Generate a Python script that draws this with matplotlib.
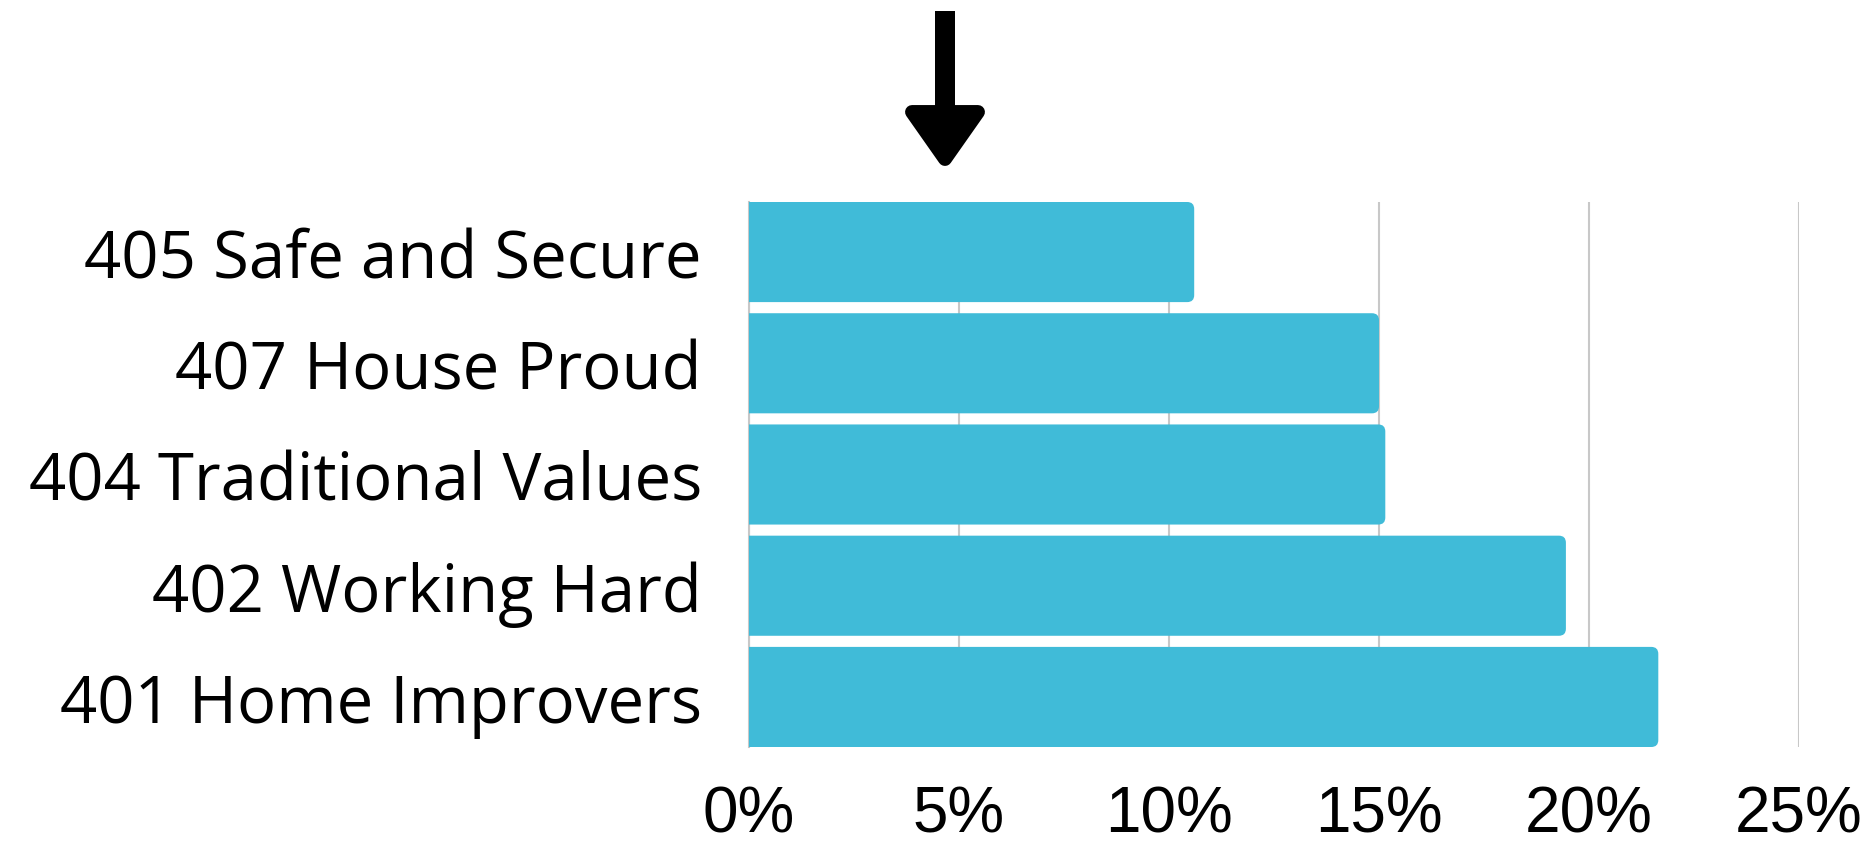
"""Horizontal bar chart of segment shares with a pointer arrow."""

import matplotlib
matplotlib.use("Agg")
import matplotlib.pyplot as plt
from matplotlib.patches import FancyBboxPatch, Polygon

segments = [
    "405 Safe and Secure",
    "407 House Proud",
    "404 Traditional Values",
    "402 Working Hard",
    "401 Home Improvers",
]
shares = [10.6, 15.0, 15.15, 19.45, 21.65]
x_ticks = [0, 5, 10, 15, 20, 25]
x_tick_labels = [f"{t}%" for t in x_ticks]

BAR_COLOR = "#40bbd8"
GRID_COLOR = "#c8c8c8"
W, H = 1871, 845

plt.rcParams["font.family"] = ["Open Sans", "DejaVu Sans"]

fig = plt.figure(figsize=(W / 100, H / 100), dpi=100)
ax = fig.add_axes([749 / W, 1 - 748 / H, (1799 - 749) / W, (748 - 203) / H])

bar_h = 0.9
n = len(segments)
ax.set_xlim(0, 25)
ax.set_ylim(n - 1 + bar_h / 2, -bar_h / 2)

# rounded right corners; left side is pushed past the axis and clipped
px_x = (1799 - 749) / 25.0
px_y = (748 - 203) / (n - 1 + bar_h)
radius_px = 7
rx = radius_px / px_x
for i, val in enumerate(shares):
    box = FancyBboxPatch(
        (-1.0, i - bar_h / 2), val + 1.0, bar_h,
        boxstyle=f"round,pad=0,rounding_size={rx}",
        mutation_aspect=px_x / px_y,
        facecolor=BAR_COLOR, edgecolor="none", zorder=3, clip_on=True,
    )
    ax.add_patch(box)

ax.set_xticks(x_ticks)
ax.set_xticklabels(x_tick_labels, family=["Liberation Sans", "DejaVu Sans"])
ax.set_yticks(range(n))
ax.set_yticklabels(segments)
ax.tick_params(axis="x", length=0, pad=27, labelsize=46)
ax.tick_params(axis="y", length=0, pad=34, labelsize=47)
ax.xaxis.grid(True, color=GRID_COLOR, linewidth=1.5, zorder=0)
ax.set_axisbelow(True)
for side in ["top", "right", "bottom"]:
    ax.spines[side].set_visible(False)
ax.spines["left"].set_color(GRID_COLOR)
ax.spines["left"].set_linewidth(1.5)
ax.spines["left"].set_zorder(0)

# pointer arrow above the chart
def fig_pt(x, y):
    return (x / W, 1 - y / H)

shaft = Polygon(
    [fig_pt(935, 12), fig_pt(955, 12), fig_pt(955, 115), fig_pt(935, 115)],
    closed=True, transform=fig.transFigure, facecolor="black", edgecolor="none",
)
head = Polygon(
    [fig_pt(912, 113), fig_pt(978, 113), fig_pt(945, 160)],
    closed=True, transform=fig.transFigure, facecolor="black",
    edgecolor="black", linewidth=10, joinstyle="round",
)
fig.patches.extend([shaft, head])

fig.savefig("out.png", dpi=100)
